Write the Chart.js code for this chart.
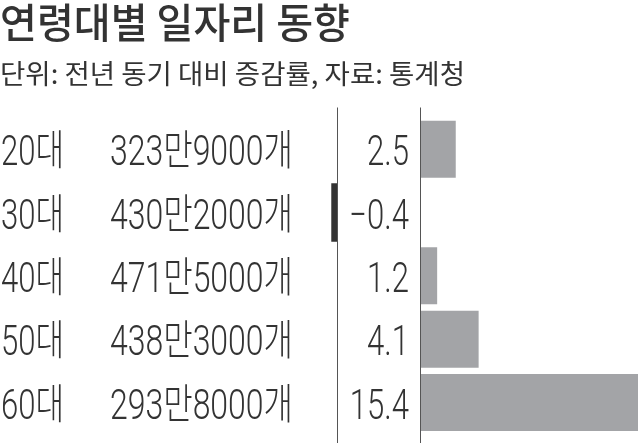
<!DOCTYPE html>
<html>
<head>
<meta charset="utf-8">
<script src="https://cdn.jsdelivr.net/npm/chart.js@4"></script>
<style>
  body { margin: 0; background: #fff; }
  canvas { display: block; }
</style>
</head>
<body>
<canvas id="chart" width="638" height="443"></canvas>
<script>
// 데이터
const ageGroups = ['20대', '30대', '40대', '50대', '60대'];
const jobCounts = ['323만9000개', '430만2000개', '471만5000개', '438만3000개', '293만8000개'];
const changes = [2.5, -0.4, 1.2, 4.1, 15.4];

const titleText = '연령대별 일자리 동향';
const subtitleText = '단위: 전년 동기 대비 증감률, 자료: 통계청';

// 레이아웃
const zeroX = 420;      // 증가 막대 기준선
const negZeroX = 337;   // 감소 막대 기준선
const unitPx = 14.3;
const areaLeft = 320, areaRight = 638;
const textColor = '#333';
const rowFont = '300 42px Roboto, "Liberation Sans", "Noto Sans CJK KR", sans-serif';
const squeeze = 0.74;

function drawText(ctx, text, x, y, sx, align) {
    ctx.save();
    ctx.translate(x, y);
    ctx.scale(sx, 1);
    ctx.textAlign = align;
    ctx.fillText(text, 0, 0);
    ctx.restore();
}

function drawFit(ctx, text, x, y, width) {
    const w = ctx.measureText(text).width;
    drawText(ctx, text, x, y, width / w, 'left');
}

const rowsPlugin = {
    id: 'rows',
    afterDatasetsDraw(chart) {
        const ctx = chart.ctx;
        const yS = chart.scales.y;
        const top = chart.chartArea.top - 10;
        const bottom = chart.height;

        ctx.save();
        ctx.strokeStyle = '#555';
        ctx.lineWidth = 1;
        [chart.scales.x.getPixelForValue(0), chart.scales.x2.getPixelForValue(0)].forEach(px => {
            ctx.beginPath();
            ctx.moveTo(Math.round(px) + 0.5, top);
            ctx.lineTo(Math.round(px) + 0.5, bottom);
            ctx.stroke();
        });

        ctx.fillStyle = textColor;
        ctx.textBaseline = 'alphabetic';

        ctx.font = '500 41px "Noto Sans CJK KR", sans-serif';
        drawFit(ctx, titleText, 0, 38, 350);
        ctx.font = '27px "Noto Sans CJK KR", sans-serif';
        drawFit(ctx, subtitleText, 0, 84, 465);

        ctx.font = rowFont;
        ageGroups.forEach((g, i) => {
            const y = yS.getPixelForValue(i) + 16;
            drawText(ctx, g, 1, y, squeeze, 'left');
            drawFit(ctx, jobCounts[i], 110, y, 183);
            const v = changes[i];
            const label = v < 0 ? '\u2212' + Math.abs(v).toFixed(1) : v.toFixed(1);
            drawText(ctx, label, 409, y, squeeze, 'right');
        });
        ctx.restore();
    }
};

new Chart(document.getElementById('chart'), {
    type: 'bar',
    data: {
        labels: ageGroups,
        datasets: [
            {
                data: changes.map(v => v >= 0 ? v : null),
                backgroundColor: '#a3a4a7',
                xAxisID: 'x',
                grouped: false,
                barPercentage: 0.9,
                categoryPercentage: 1
            },
            {
                data: changes.map(v => v < 0 ? v : null),
                backgroundColor: '#333333',
                xAxisID: 'x2',
                grouped: false,
                barPercentage: 0.92,
                categoryPercentage: 1
            }
        ]
    },
    options: {
        indexAxis: 'y',
        responsive: false,
        animation: false,
        devicePixelRatio: 1,
        layout: { padding: { left: areaLeft, right: 0, top: 117.5, bottom: 8.8 } },
        scales: {
            x: { display: false, min: (areaLeft - zeroX) / unitPx, max: (areaRight - zeroX) / unitPx },
            x2: { display: false, min: (areaLeft - negZeroX) / unitPx, max: (areaRight - negZeroX) / unitPx },
            y: { display: false }
        },
        plugins: { legend: { display: false }, tooltip: { enabled: false } }
    },
    plugins: [rowsPlugin]
});
</script>
</body>
</html>
